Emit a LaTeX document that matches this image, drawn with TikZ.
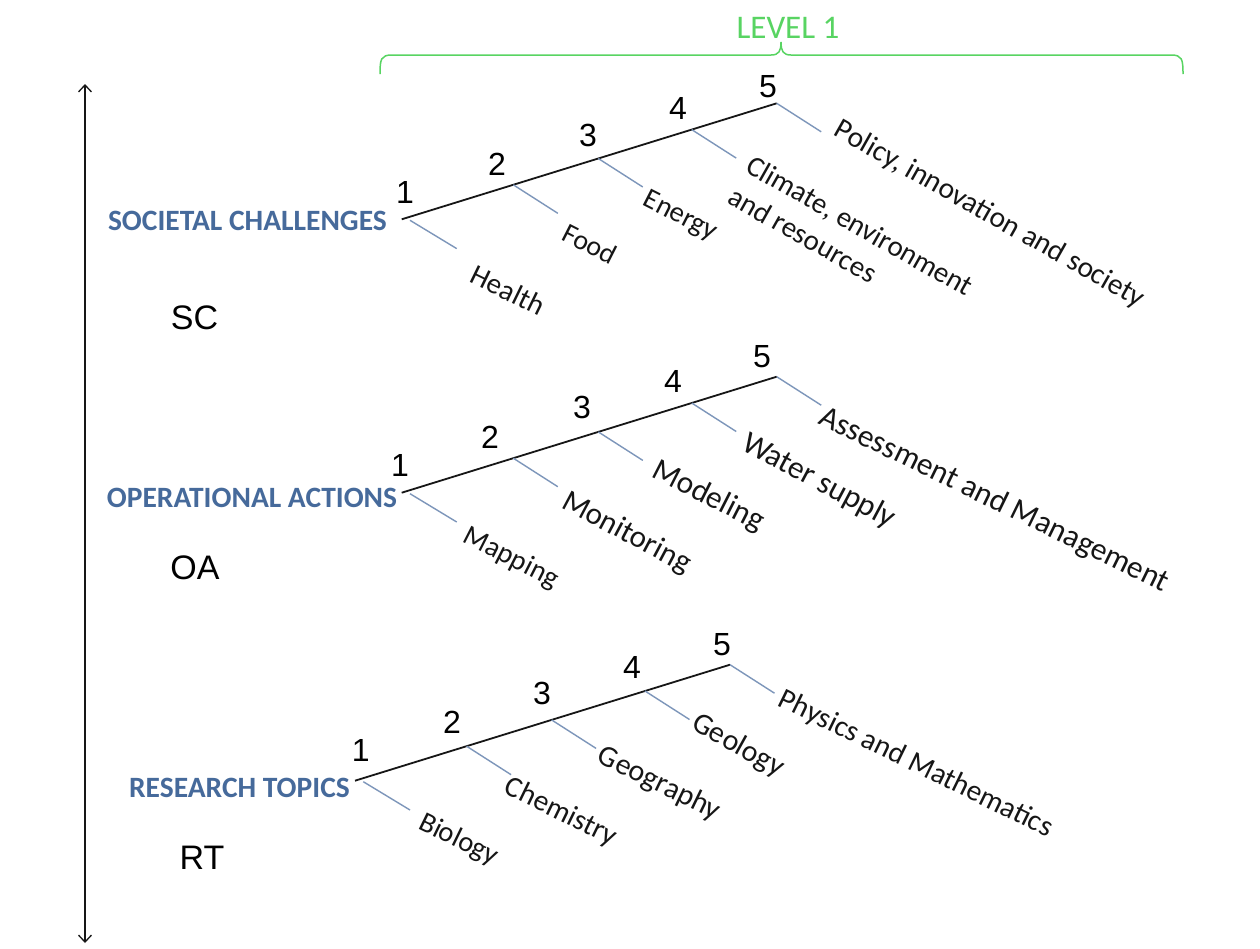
\documentclass[tikz,border=0pt]{standalone}
\usepackage{fontspec}
\setmainfont{Carlito}
\newfontfamily\numfont{Liberation Sans}
\usetikzlibrary{arrows.meta,calc}

\definecolor{catblue}{RGB}{70,106,155}
\definecolor{twig}{RGB}{125,150,186}
\definecolor{levelgreen}{RGB}{88,212,98}
\definecolor{ink}{RGB}{22,22,22}

\tikzset{
  trunk/.style={line width=1.8pt, draw=ink},
  twigline/.style={line width=1.4pt, draw=twig},
  cat/.style={font=\fontsize{29.5}{34}\selectfont\bfseries, text=catblue, inner sep=0pt, anchor=base east},
  num/.style={font=\numfont\fontsize{32}{36}\selectfont, text=black, inner sep=0pt},
  abbr/.style={font=\numfont\fontsize{34}{40}\selectfont, text=black, inner sep=0pt},
  % leaf label: font size, then clockwise slant in degrees
  leaf/.style n args={2}{font=\fontsize{#1}{#1}\selectfont, text=ink, inner sep=0pt, anchor=base west, rotate=-#2},
  brace/.style={draw=levelgreen, line width=1.5pt},
  axis/.style={draw=ink, line width=1.3pt, {Straight Barb[length=7pt,width=13pt]}-{Straight Barb[length=7pt,width=13pt]}},
}

% trunk and five twigs of one tree, rooted at (#2,#3)
\newcommand\treeframe[3]{%
  \begin{scope}[shift={(#2,#3)}, name prefix=#1-]
    \coordinate (root) at (0,0);
    \coordinate (b1) at (8.3,1);
    \coordinate (b2) at (111.6,-34.5);
    \coordinate (b3) at (196.6,-60.8);
    \coordinate (b4) at (290,-89.7);
    \coordinate (b5) at (375,-116);
    \coordinate (k1) at (55,29.3);
    \coordinate (k2) at (156.1,-6);
    \coordinate (k3) at (241.1,-32.3);
    \coordinate (k4) at (334.5,-61.2);
    \coordinate (k5) at (419.5,-87.5);
    \draw[trunk] (root) -- (b5);
    \foreach \i in {1,...,5} \draw[twigline] (b\i) -- (k\i);
  \end{scope}}

\begin{document}
\begin{tikzpicture}[x=1pt,y=-1pt]
  \fill[white] (0,0) rectangle (1260,948);
  \useasboundingbox (0,0) rectangle (1260,948);

  % level brace
  \coordinate (bl) at (380,74);
  \coordinate (br) at (1183,74);
  \coordinate (btip) at (781,42);
  \draw[brace] (bl) .. controls (380,59) and (381,55) .. (392,55) -- (771,55)
    .. controls (779,55) and (781,51) .. (btip)
    .. controls (781,51) and (783,55) .. (791,55) -- (1171,55)
    .. controls (1182,55) and (1183,59) .. (br);
  \node[font=\fontsize{33}{38}\selectfont, text=levelgreen, inner sep=0pt] (lvl) at (788,28) {LEVEL 1};

  % vertical axis
  \coordinate (atop) at (85,84);
  \coordinate (abot) at (85,943);
  \draw[axis] (atop) -- (abot);

  % tree frames
  \treeframe{sc}{401.7}{219.3}
  \treeframe{oa}{401.7}{492.7}
  \treeframe{rt}{355}{780.7}

  % societal challenges
  \node[cat] (sc) at (387,230) {SOCIETAL CHALLENGES};
  \node[abbr] (scab) at (194.6,318) {SC};
  \node[num] (sc1) at (405,192) {1};
  \node[num] (sc2) at (497,164) {2};
  \node[num] (sc3) at (588,135) {3};
  \node[num] (sc4) at (678,108) {4};
  \node[num] (sc5) at (768,87) {5};
  \node[leaf={29}{26}] (sch) at (468.5,281.8) {Health};
  \node[leaf={28}{27}] (scf) at (560.1,239.3) {Food};
  \node[leaf={28.5}{27}] (sce) at (641.6,204.7) {Energy};
  \node[leaf={29}{29.5}] (scc) at (744.1,171.3) {Climate, environment};
  \node[leaf={29}{29.5}] (scc2) at ($(scc.base west)!36pt!-90:(scc.base east)$) {and resources};
  \node[leaf={29.5}{29.5}] (scp) at (832.3,134.8) {Policy, innovation and society};

  % operational actions
  \node[cat] (oa) at (397.3,507.5) {OPERATIONAL ACTIONS};
  \node[abbr] (oaab) at (195,568) {OA};
  \node[num] (oa1) at (400,465) {1};
  \node[num] (oa2) at (490,437) {2};
  \node[num] (oa3) at (582,407) {3};
  \node[num] (oa4) at (673,381) {4};
  \node[num] (oa5) at (762,357) {5};
  \node[leaf={28.5}{27}] (oam) at (461.6,541.4) {Mapping};
  \node[leaf={31}{28}] (oamo) at (559.9,507) {Monitoring};
  \node[leaf={31.5}{27}] (oamd) at (650.2,476.2) {Modeling};
  \node[leaf={31.5}{28}] (oaw) at (739.9,449) {Water supply};
  \node[leaf={31.5}{26}] (oaa) at (817.1,423.2) {Assessment and Management};

  % research topics
  \node[cat] (rt) at (350,797) {RESEARCH TOPICS};
  \node[abbr] (rtab) at (202,858) {RT};
  \node[num] (rt1) at (360.7,750.7) {1};
  \node[num] (rt2) at (452,722) {2};
  \node[num] (rt3) at (542,693) {3};
  \node[num] (rt4) at (632,667) {4};
  \node[num] (rt5) at (722,645) {5};
  \node[leaf={28.5}{26}] (rtb) at (416.9,828.2) {Biology};
  \node[leaf={29.5}{26}] (rtc) at (502.8,792.8) {Chemistry};
  \node[leaf={30}{26}] (rtg) at (595.8,761.8) {Geography};
  \node[leaf={30}{29}] (rtge) at (690.2,728.5) {Geology};
  \node[leaf={29.5}{26}] (rtp) at (776.7,705.1) {Physics and Mathematics};
\end{tikzpicture}
\end{document}
